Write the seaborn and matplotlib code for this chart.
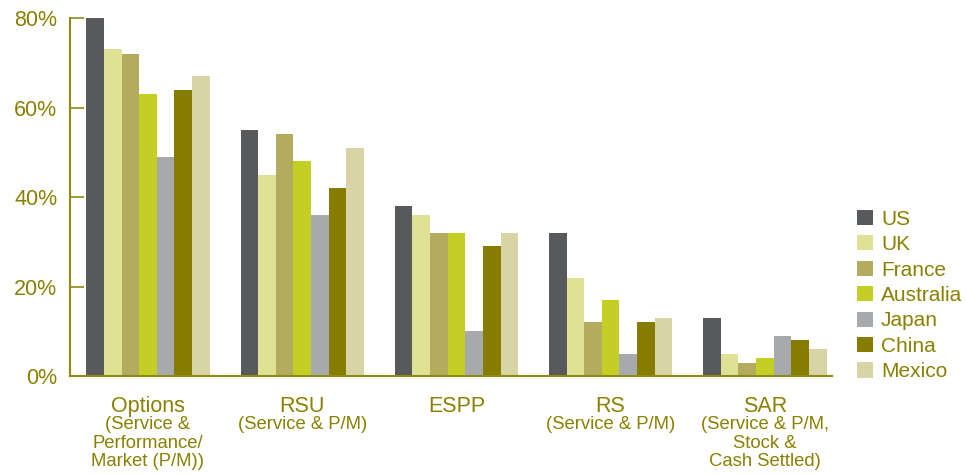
import matplotlib
matplotlib.use("Agg")
import matplotlib.pyplot as plt
import matplotlib.transforms as mtransforms
import seaborn as sns
import pandas as pd

# Award types and their qualifiers
award_types = ["Options", "RSU", "ESPP", "RS", "SAR"]
award_notes = [
    "(Service &\nPerformance/\nMarket (P/M))",
    "(Service & P/M)",
    "",
    "(Service & P/M)",
    "(Service & P/M,\nStock &\nCash Settled)",
]

countries = ["US", "UK", "France", "Australia", "Japan", "China", "Mexico"]

# Prevalence (%) per country, in award_types order
us = [80, 55, 38, 32, 13]
uk = [73, 45, 36, 22, 5]
france = [72, 54, 32, 12, 3]
australia = [63, 48, 32, 17, 4]
japan = [49, 36, 10, 5, 9]
china = [64, 42, 29, 12, 8]
mexico = [67, 51, 32, 13, 6]

colors = ["#58595b", "#dfe294", "#b3ab5e", "#c3cf24", "#a8a9ad", "#857c00", "#d9d4a5"]
text_color = "#8a8000"

series = [us, uk, france, australia, japan, china, mexico]
rows = []
for country, vals in zip(countries, series):
    for award, v in zip(award_types, vals):
        rows.append({"award": award, "country": country, "value": v})
df = pd.DataFrame(rows)

sns.set_style("white")
plt.rcParams["font.family"] = ["Liberation Sans", "DejaVu Sans"]

fig = plt.figure(figsize=(9.65, 4.75), dpi=100)
ax = fig.add_axes([0.0725, 0.2084, 0.862 - 0.0725, 0.962 - 0.2084])

sns.barplot(data=df, x="award", y="value", hue="country", order=award_types,
            hue_order=countries, palette=colors, width=0.8, saturation=1,
            errorbar=None, ax=ax, linewidth=0)

ax.set_ylim(0, 80)
ax.set_xlim(-0.506, 4.434)
ax.set_yticks([0, 20, 40, 60, 80])
ax.set_yticklabels([f"{t}%" for t in [0, 20, 40, 60, 80]])
ax.set_xlabel("")
ax.set_ylabel("")
ax.set_xticks([])

for side in ["top", "right"]:
    ax.spines[side].set_visible(False)
for side in ["left", "bottom"]:
    ax.spines[side].set_color("#8f8a10")
    ax.spines[side].set_linewidth(1.5)

ax.tick_params(axis="y", direction="in", length=10, width=1.2, color="#8f8a10",
               labelcolor=text_color, labelsize=15.5, pad=9, left=True)

# Category labels: name plus qualifier below
trans = mtransforms.blended_transform_factory(ax.transData, ax.transAxes)
for i, (name, note) in enumerate(zip(award_types, award_notes)):
    ax.text(i, -0.055, name, transform=trans, ha="center", va="top",
            fontsize=15.5, color=text_color)
    if note:
        ax.text(i, -0.112, note, transform=trans, ha="center", va="top",
                fontsize=13.3, color=text_color, linespacing=1.12)

leg = ax.legend(loc="center left", bbox_to_anchor=(1.033, 0.225), frameon=False,
                fontsize=15, handlelength=0.75, handleheight=0.75, handletextpad=0.4,
                labelspacing=0.31, borderaxespad=0, borderpad=0)
for t in leg.get_texts():
    t.set_color(text_color)

fig.savefig("out.png", dpi=100)
